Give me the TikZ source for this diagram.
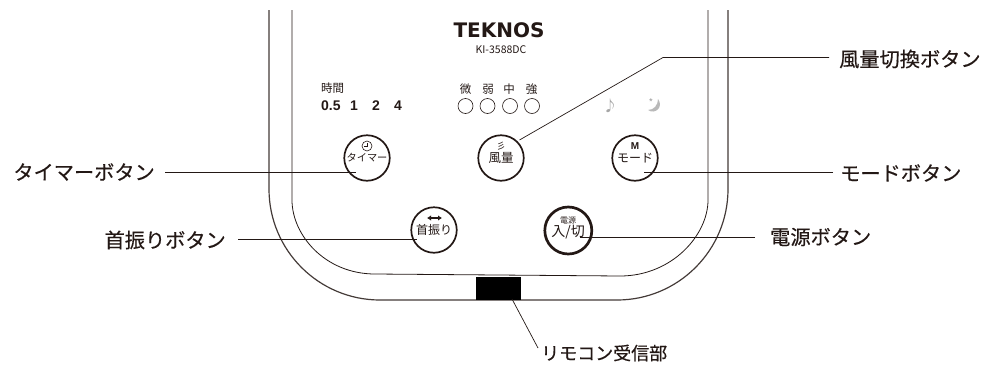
\documentclass[tikz,border=0pt]{standalone}
\usepackage{fontspec}
\setmainfont{Noto Sans CJK JP}
\newfontfamily\cjkm[FakeBold=0.4]{Noto Sans CJK JP}
\newfontfamily\latinb{Liberation Sans}
\newfontfamily\logofont{DejaVu Sans}
\usetikzlibrary{arrows.meta}
\definecolor{ink}{HTML}{231815}
\tikzset{
 x=1pt,y=-1pt,
 body/.style={draw=ink,line width=.8pt},
 btn/.style={circle,draw=ink,fill=white,line width=1.7pt,minimum size=45.5pt,inner sep=0pt},
 leader/.style={draw=ink,line width=.7pt},
 callout/.style={text=ink,font=\cjkm\fontsize{20.2}{22}\selectfont,inner sep=0pt},
 btntext/.style={text=ink,inner sep=0pt,font=\fontsize{12}{13}\selectfont},
 smalltext/.style={text=ink,inner sep=0pt,font=\fontsize{11.5}{12}\selectfont},
 digit/.style={text=ink,inner sep=0pt,font=\latinb\bfseries\fontsize{14}{15}\selectfont},
 lamp/.style={circle,draw=ink,line width=.6pt,minimum size=15pt,inner sep=0pt},
}
\begin{document}
\begin{tikzpicture}
\useasboundingbox (0,0) rectangle (987,367);
% body
\draw[body,draw=ink!85,line width=1.2pt] (269,10) -- (269,189) .. controls (269,250.3) and (318.7,300) .. (380,300) -- (617,300) .. controls (678.3,300) and (728,250.3) .. (728,189) -- (728,10);
\draw[body] (292,10) -- (292,200) .. controls (292,235) and (325,274) .. (375,274) -- (620,276) .. controls (672,276) and (708,235) .. (708,200) -- (708,10);
% logo
\node[text=ink,inner sep=0pt,font=\logofont\bfseries\fontsize{20}{21}\selectfont] (logo) at (499,30) {TEKNOS};
\node[text=ink,inner sep=0pt,font=\fontsize{10.5}{11}\selectfont] (model) at (501,50) {KI-3588DC};
% timer scale
\node[smalltext,anchor=west] (jikan) at (321,88) {時間};
\node[digit,anchor=west] (n05) at (321,106) {0.5};
\node[digit] (n1) at (354,106) {1};
\node[digit] (n2) at (376,106) {2};
\node[digit] (n4) at (398,106) {4};
% wind levels
\node[smalltext] (w1) at (465.5,89) {微};
\node[smalltext] (w2) at (488,89) {弱};
\node[smalltext] (w3) at (509,89) {中};
\node[smalltext] (w4) at (531.5,89) {強};
\node[lamp] (l1) at (465.5,106) {};
\node[lamp] (l2) at (487.5,106) {};
\node[lamp] (l3) at (510,106) {};
\node[lamp] (l4) at (532,106) {};
% mode icons
\node[text=gray!70,inner sep=0pt,font=\fontsize{15}{15}\selectfont] (note) at (610,106) {♪};
\node[text=gray!70,inner sep=0pt,font=\fontsize{10}{10}\selectfont] (star) at (651,103) {*};
\fill[gray!55] (658,99) .. controls (664,107) and (655,115) .. (648,110) .. controls (654,110) and (658,105) .. (658,99) -- cycle;
% leader points
\coordinate (kinkA) at (663,57.5);
\coordinate (recvA) at (512,299);
\coordinate (recvB) at (538,348);
% buttons
\node[btn] (timer) at (367,158) {};
\node[btn] (wind) at (501,158) {};
\node[btn] (mode) at (635,158) {};
\node[btn] (swing) at (434,230) {};
\node[btn,line width=2.7pt,minimum size=47pt] (power) at (568.3,230.5) {};
% button text
\node[btntext,font=\fontsize{10.2}{11}\selectfont] (ttimer) at (367,158) {タイマー};
\draw[ink,line width=.6pt] (367,146) circle (5pt);
\draw[ink,line width=.6pt] (367,143) -- (367,146) -- (363.5,146);
\node[btntext,font=\fontsize{12.5}{13}\selectfont] (twind) at (501,158) {風量};
\node[smalltext,font=\fontsize{9}{10}\selectfont] (iwind) at (501,146) {彡};
\node[text=ink,inner sep=0pt,font=\latinb\bfseries\fontsize{10}{11}\selectfont] (imode) at (635,146) {M};
\node[btntext] (tmode) at (635,158) {モード};
\node[btntext] (tswing) at (434,230) {首振り};
\draw[ink,line width=1.2pt,{Latex[length=4pt,width=5.5pt]}-{Latex[length=4pt,width=5.5pt]}] (427,218) -- (442,218);
\node[btntext,font=\fontsize{8}{9}\selectfont] (ipower) at (568,220) {電源};
\node[btntext,font=\fontsize{14}{15}\selectfont] (tpower) at (568,232) {入/切};
% callouts
\node[callout,anchor=east] (ctimer) at (155,172) {タイマーボタン};
\node[callout,anchor=west] (cwind) at (839,59) {風量切換ボタン};
\node[callout,anchor=west] (cmode) at (840,173) {モードボタン};
\node[callout,anchor=east] (cswing) at (226,240) {首振りボタン};
\node[callout,anchor=west] (cpower) at (770,237) {電源ボタン};
\node[text=ink,inner sep=0pt,anchor=west,font=\cjkm\fontsize{18}{20}\selectfont] (crecv) at (541,353) {リモコン受信部};
% leaders
\draw[leader] (ctimer.east) ++(10,0) -- (355.5,172);
\draw[leader] (cwind.west) ++(-10,-1.5) -- (kinkA) -- (519.5,140);
\draw[leader] (cmode.west) ++(-7,-.5) -- (644,172.5);
\draw[leader] (cswing.east) ++(12,-.5) -- (417,239.5);
\draw[leader] (cpower.west) ++(-15,0) -- (580,237);
% receiver
\fill[black] (476,277) rectangle (521,300);
\draw[leader] (recvA) -- (recvB);
\end{tikzpicture}
\end{document}
